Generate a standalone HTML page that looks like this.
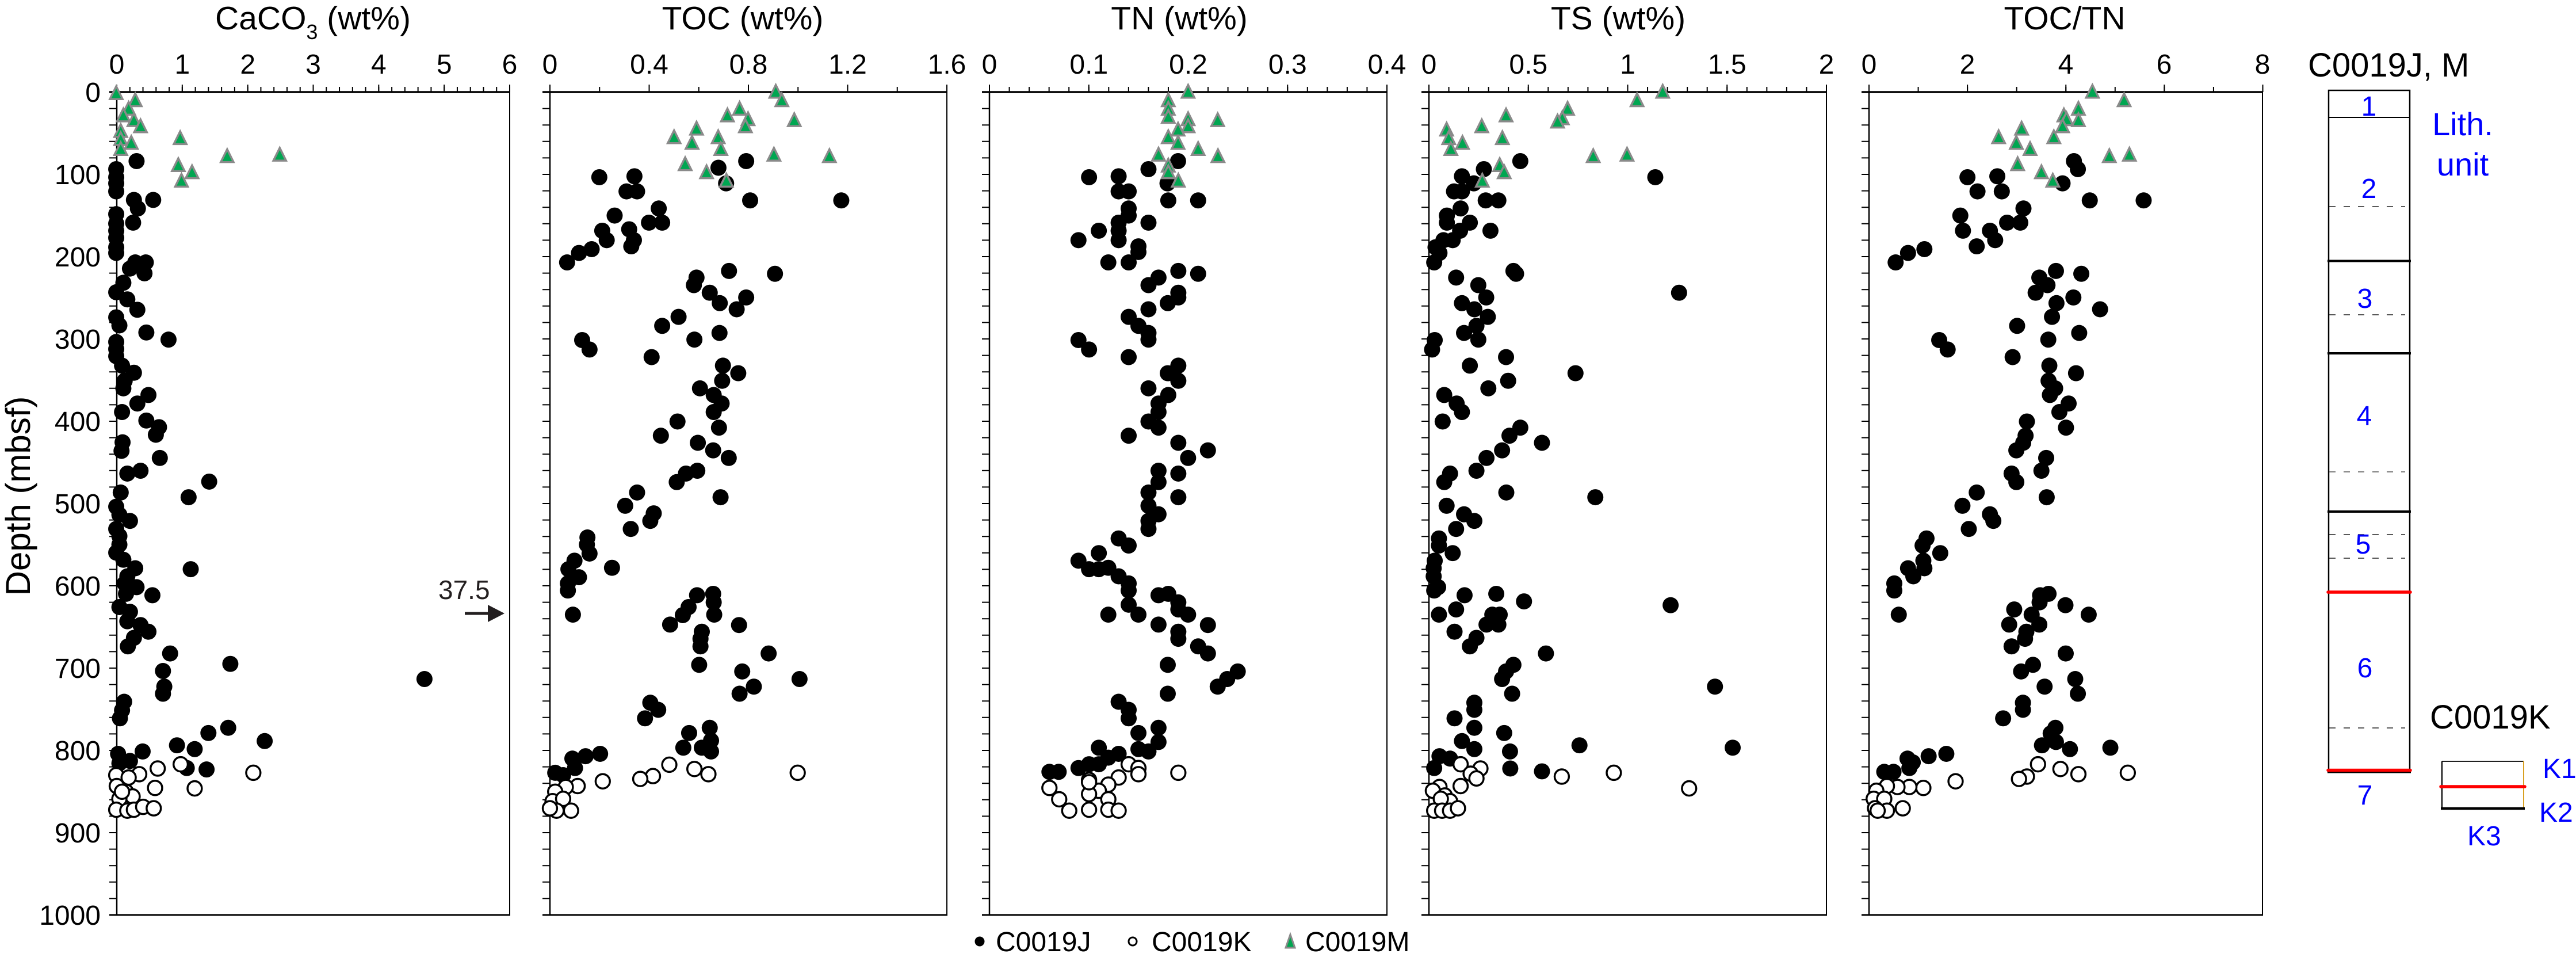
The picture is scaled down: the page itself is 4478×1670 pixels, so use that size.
<!DOCTYPE html>
<html><head><meta charset="utf-8"><style>
html,body{margin:0;padding:0;background:#fff;}
body{width:4478px;height:1670px;overflow:hidden;}
svg{display:block;font-family:"Liberation Sans",Arial,sans-serif;}
</style></head><body>
<svg width="4478" height="1670" viewBox="0 0 4478 1670" xmlns="http://www.w3.org/2000/svg">
<defs>
<ellipse id="d" cx="0" cy="0" rx="30.5" ry="17" fill="#000"/>
<ellipse id="o" cx="0" cy="0" rx="27" ry="15.2" fill="#fff" stroke="#000" stroke-width="3.5" vector-effect="non-scaling-stroke"/>
<path id="t" d="M0,-15 L24,12 L-24,12Z" fill="#00a651" stroke="#8a8a8a" stroke-width="3.5" vector-effect="non-scaling-stroke"/>
</defs>
<rect width="4478" height="1670" fill="#fff"/>

<!-- Titles -->
<g font-size="57" fill="#000" text-anchor="middle">
<text x="544" y="51">CaCO<tspan font-size="36" dy="17">3</tspan><tspan dy="-17"> (wt%)</tspan></text>
<text x="1291" y="51">TOC (wt%)</text>
<text x="2050" y="51">TN (wt%)</text>
<text x="2813" y="51">TS (wt%)</text>
<text x="3589" y="51">TOC/TN</text>
</g>

<!-- X tick labels -->
<g font-size="48" fill="#000" text-anchor="middle">
<text x="203" y="128">0</text><text x="316.8" y="128">1</text><text x="430.7" y="128">2</text><text x="544.5" y="128">3</text><text x="658.3" y="128">4</text><text x="772.2" y="128">5</text><text x="886" y="128">6</text>
<text x="956" y="128">0</text><text x="1128.5" y="128">0.4</text><text x="1301" y="128">0.8</text><text x="1473.5" y="128">1.2</text><text x="1646" y="128">1.6</text>
<text x="1720" y="128">0</text><text x="1892.8" y="128">0.1</text><text x="2065.5" y="128">0.2</text><text x="2238.3" y="128">0.3</text><text x="2411" y="128">0.4</text>
<text x="2484" y="128">0</text><text x="2656.8" y="128">0.5</text><text x="2829.5" y="128">1</text><text x="3002.3" y="128">1.5</text><text x="3175" y="128">2</text>
<text x="3249" y="128">0</text><text x="3420" y="128">2</text><text x="3591" y="128">4</text><text x="3762" y="128">6</text><text x="3933" y="128">8</text>
</g>

<!-- Y tick labels -->
<g font-size="48" fill="#000" text-anchor="end">
<text x="175" y="177">0</text><text x="175" y="320">100</text><text x="175" y="463">200</text><text x="175" y="606">300</text><text x="175" y="749">400</text><text x="175" y="892">500</text><text x="175" y="1035">600</text><text x="175" y="1178">700</text><text x="175" y="1321">800</text><text x="175" y="1464">900</text><text x="175" y="1607">1000</text>
</g>
<text transform="translate(52,862) rotate(-90)" font-size="60" text-anchor="middle" fill="#000">Depth (mbsf)</text>

<!-- Ticks -->
<g stroke="#000" fill="none">
<line x1="202" y1="155.5" x2="888" y2="155.5" stroke-width="9" stroke-dasharray="2 20.767"/>
<line x1="202" y1="153.5" x2="888" y2="153.5" stroke-width="13" stroke-dasharray="2 111.83"/>
<line x1="955" y1="155.5" x2="1648" y2="155.5" stroke-width="9" stroke-dasharray="2 84.25"/>
<line x1="955" y1="153.5" x2="1648" y2="153.5" stroke-width="13" stroke-dasharray="2 170.5"/>
<line x1="1719" y1="155.5" x2="2413" y2="155.5" stroke-width="9" stroke-dasharray="2 32.55"/>
<line x1="1719" y1="153.5" x2="2413" y2="153.5" stroke-width="13" stroke-dasharray="2 170.75"/>
<line x1="2483" y1="155.5" x2="3177" y2="155.5" stroke-width="9" stroke-dasharray="2 32.55"/>
<line x1="2483" y1="153.5" x2="3177" y2="153.5" stroke-width="13" stroke-dasharray="2 170.75"/>
<line x1="3248" y1="155.5" x2="3935" y2="155.5" stroke-width="9" stroke-dasharray="2 83.56"/>
<line x1="3248" y1="153.5" x2="3935" y2="153.5" stroke-width="13" stroke-dasharray="2 169.12"/>
<line x1="196.5" y1="159" x2="196.5" y2="1592" stroke-width="13" stroke-dasharray="2 26.6"/>
<line x1="949.5" y1="159" x2="949.5" y2="1592" stroke-width="13" stroke-dasharray="2 26.6"/>
<line x1="1713.5" y1="159" x2="1713.5" y2="1592" stroke-width="13" stroke-dasharray="2 26.6"/>
<line x1="2477.5" y1="159" x2="2477.5" y2="1592" stroke-width="13" stroke-dasharray="2 26.6"/>
<line x1="3242.5" y1="159" x2="3242.5" y2="1592" stroke-width="13" stroke-dasharray="2 26.6"/>
</g>

<!-- Frames -->
<g stroke="#000" fill="none">
<line x1="190" y1="160" x2="887" y2="160" stroke-width="3.5"/><line x1="203" y1="160" x2="203" y2="1590" stroke-width="2.5"/><line x1="886" y1="160" x2="886" y2="1591" stroke-width="2"/><line x1="190" y1="1590" x2="887" y2="1590" stroke-width="3"/>
<line x1="943" y1="160" x2="1647" y2="160" stroke-width="3.5"/><line x1="956" y1="160" x2="956" y2="1590" stroke-width="2.5"/><line x1="1646" y1="160" x2="1646" y2="1591" stroke-width="2"/><line x1="943" y1="1590" x2="1647" y2="1590" stroke-width="3"/>
<line x1="1707" y1="160" x2="2412" y2="160" stroke-width="3.5"/><line x1="1720" y1="160" x2="1720" y2="1590" stroke-width="2.5"/><line x1="2411" y1="160" x2="2411" y2="1591" stroke-width="2"/><line x1="1707" y1="1590" x2="2412" y2="1590" stroke-width="3"/>
<line x1="2471" y1="160" x2="3176" y2="160" stroke-width="3.5"/><line x1="2484" y1="160" x2="2484" y2="1590" stroke-width="2.5"/><line x1="3175" y1="160" x2="3175" y2="1591" stroke-width="2"/><line x1="2471" y1="1590" x2="3176" y2="1590" stroke-width="3"/>
<line x1="3236" y1="160" x2="3934" y2="160" stroke-width="3.5"/><line x1="3249" y1="160" x2="3249" y2="1590" stroke-width="2.5"/><line x1="3933" y1="160" x2="3933" y2="1591" stroke-width="2"/><line x1="3236" y1="1590" x2="3934" y2="1590" stroke-width="3"/>
</g>

<!-- Panel 1 CaCO3 -->
<g transform="translate(180,150) scale(0.45918,0.8227)">
<use href="#d" x="125" y="158"/><use href="#d" x="48" y="175"/><use href="#d" x="48" y="192"/><use href="#d" x="48" y="205"/><use href="#d" x="48" y="222"/>
<use href="#d" x="115" y="240"/><use href="#d" x="188" y="240"/><use href="#d" x="130" y="258"/><use href="#d" x="112" y="288"/>
<use href="#d" x="48" y="270"/><use href="#d" x="48" y="290"/><use href="#d" x="48" y="305"/><use href="#d" x="48" y="320"/><use href="#d" x="48" y="340"/><use href="#d" x="48" y="352"/>
<use href="#d" x="120" y="372"/><use href="#d" x="160" y="372"/><use href="#d" x="100" y="385"/><use href="#d" x="155" y="395"/><use href="#d" x="75" y="415"/><use href="#d" x="48" y="435"/><use href="#d" x="90" y="450"/><use href="#d" x="128" y="472"/><use href="#d" x="48" y="488"/><use href="#d" x="60" y="505"/><use href="#d" x="162" y="520"/><use href="#d" x="246" y="535"/>
<use href="#d" x="48" y="540"/><use href="#d" x="48" y="555"/><use href="#d" x="48" y="570"/><use href="#d" x="70" y="590"/><use href="#d" x="115" y="605"/><use href="#d" x="80" y="622"/><use href="#d" x="75" y="638"/><use href="#d" x="170" y="652"/><use href="#d" x="128" y="670"/><use href="#d" x="70" y="688"/><use href="#d" x="162" y="706"/><use href="#d" x="210" y="720"/><use href="#d" x="198" y="736"/><use href="#d" x="72" y="752"/><use href="#d" x="68" y="770"/><use href="#d" x="213" y="785"/><use href="#d" x="90" y="818"/><use href="#d" x="140" y="812"/><use href="#d" x="400" y="835"/><use href="#d" x="65" y="858"/><use href="#d" x="322" y="868"/><use href="#d" x="48" y="888"/><use href="#d" x="60" y="905"/><use href="#d" x="100" y="918"/><use href="#d" x="48" y="935"/><use href="#d" x="60" y="950"/><use href="#d" x="60" y="968"/><use href="#d" x="48" y="985"/><use href="#d" x="75" y="1000"/><use href="#d" x="120" y="1018"/><use href="#d" x="330" y="1020"/><use href="#d" x="90" y="1035"/><use href="#d" x="80" y="1050"/><use href="#d" x="125" y="1058"/><use href="#d" x="85" y="1072"/><use href="#d" x="185" y="1075"/><use href="#d" x="60" y="1100"/><use href="#d" x="100" y="1110"/><use href="#d" x="90" y="1130"/><use href="#d" x="140" y="1138"/><use href="#d" x="170" y="1152"/><use href="#d" x="115" y="1165"/><use href="#d" x="92" y="1183"/><use href="#d" x="252" y="1198"/><use href="#d" x="480" y="1220"/><use href="#d" x="225" y="1235"/><use href="#d" x="1215" y="1252"/><use href="#d" x="230" y="1268"/><use href="#d" x="225" y="1283"/><use href="#d" x="78" y="1300"/><use href="#d" x="70" y="1318"/><use href="#d" x="62" y="1335"/><use href="#d" x="472" y="1355"/><use href="#d" x="397" y="1366"/><use href="#d" x="610" y="1383"/><use href="#d" x="278" y="1392"/><use href="#d" x="345" y="1400"/><use href="#d" x="148" y="1405"/><use href="#d" x="55" y="1410"/><use href="#d" x="100" y="1425"/><use href="#d" x="315" y="1440"/><use href="#d" x="390" y="1443"/><use href="#d" x="60" y="1430"/>
<use href="#o" x="205" y="1441"/><use href="#o" x="292" y="1432"/><use href="#o" x="567" y="1450"/><use href="#o" x="135" y="1453"/><use href="#o" x="48" y="1455"/><use href="#o" x="95" y="1460"/><use href="#o" x="195" y="1482"/><use href="#o" x="345" y="1483"/><use href="#o" x="50" y="1478"/><use href="#o" x="85" y="1490"/><use href="#o" x="110" y="1500"/><use href="#o" x="60" y="1505"/><use href="#o" x="48" y="1528"/><use href="#o" x="90" y="1530"/><use href="#o" x="115" y="1528"/><use href="#o" x="150" y="1522"/><use href="#o" x="190" y="1525"/><use href="#o" x="70" y="1490"/>
<use href="#t" x="48" y="15"/><use href="#t" x="120" y="30"/><use href="#t" x="95" y="48"/><use href="#t" x="75" y="62"/><use href="#t" x="115" y="72"/><use href="#t" x="140" y="85"/><use href="#t" x="65" y="95"/><use href="#t" x="65" y="112"/><use href="#t" x="105" y="120"/><use href="#t" x="65" y="133"/><use href="#t" x="290" y="110"/><use href="#t" x="468" y="148"/><use href="#t" x="667" y="145"/><use href="#t" x="283" y="167"/><use href="#t" x="335" y="182"/><use href="#t" x="295" y="200"/>
</g>

<!-- 37.5 arrow -->
<text x="762" y="1041" font-size="46" fill="#231f20">37.5</text>
<line x1="808" y1="1066" x2="852" y2="1066" stroke="#231f20" stroke-width="5"/>
<polygon points="848,1051 877,1066 848,1081" fill="#231f20"/>

<!-- Panel 2 TOC -->
<g transform="translate(933,150) scale(0.45918,0.8227)">
<use href="#d" x="793" y="158"/><use href="#d" x="688" y="172"/><use href="#d" x="237" y="192"/><use href="#d" x="370" y="190"/><use href="#d" x="340" y="222"/><use href="#d" x="380" y="222"/><use href="#d" x="717" y="205"/><use href="#d" x="808" y="241"/><use href="#d" x="1153" y="241"/><use href="#d" x="462" y="258"/><use href="#d" x="295" y="273"/><use href="#d" x="425" y="288"/><use href="#d" x="475" y="288"/><use href="#d" x="248" y="305"/><use href="#d" x="350" y="302"/><use href="#d" x="265" y="325"/><use href="#d" x="368" y="325"/><use href="#d" x="358" y="338"/><use href="#d" x="208" y="344"/><use href="#d" x="160" y="352"/><use href="#d" x="115" y="372"/>
<use href="#d" x="728" y="390"/><use href="#d" x="902" y="396"/><use href="#d" x="605" y="404"/><use href="#d" x="595" y="420"/><use href="#d" x="655" y="436"/><use href="#d" x="793" y="446"/><use href="#d" x="693" y="458"/><use href="#d" x="757" y="471"/><use href="#d" x="537" y="487"/><use href="#d" x="475" y="506"/><use href="#d" x="692" y="521"/><use href="#d" x="597" y="535"/><use href="#d" x="172" y="536"/><use href="#d" x="200" y="556"/><use href="#d" x="435" y="572"/><use href="#d" x="705" y="590"/><use href="#d" x="763" y="606"/><use href="#d" x="702" y="622"/><use href="#d" x="618" y="638"/><use href="#d" x="670" y="652"/><use href="#d" x="700" y="670"/><use href="#d" x="670" y="688"/><use href="#d" x="533" y="708"/><use href="#d" x="690" y="721"/><use href="#d" x="470" y="738"/><use href="#d" x="610" y="753"/><use href="#d" x="668" y="769"/><use href="#d" x="727" y="785"/><use href="#d" x="608" y="812"/><use href="#d" x="565" y="818"/><use href="#d" x="530" y="836"/><use href="#d" x="696" y="868"/><use href="#d" x="380" y="858"/><use href="#d" x="335" y="886"/><use href="#d" x="443" y="902"/><use href="#d" x="430" y="918"/><use href="#d" x="356" y="935"/>
<use href="#d" x="192" y="953"/><use href="#d" x="190" y="968"/><use href="#d" x="200" y="987"/><use href="#d" x="143" y="1002"/><use href="#d" x="285" y="1017"/><use href="#d" x="120" y="1020"/><use href="#d" x="160" y="1037"/><use href="#d" x="118" y="1050"/><use href="#d" x="118" y="1065"/><use href="#d" x="137" y="1116"/><use href="#d" x="607" y="1075"/><use href="#d" x="668" y="1072"/><use href="#d" x="670" y="1090"/><use href="#d" x="575" y="1100"/><use href="#d" x="553" y="1117"/><use href="#d" x="672" y="1116"/><use href="#d" x="505" y="1137"/><use href="#d" x="766" y="1138"/><use href="#d" x="625" y="1152"/><use href="#d" x="620" y="1167"/><use href="#d" x="620" y="1183"/><use href="#d" x="878" y="1198"/><use href="#d" x="615" y="1222"/><use href="#d" x="778" y="1236"/><use href="#d" x="995" y="1252"/><use href="#d" x="822" y="1268"/><use href="#d" x="768" y="1283"/><use href="#d" x="430" y="1302"/><use href="#d" x="460" y="1317"/><use href="#d" x="410" y="1335"/><use href="#d" x="577" y="1366"/><use href="#d" x="655" y="1355"/><use href="#d" x="660" y="1382"/><use href="#d" x="555" y="1397"/><use href="#d" x="625" y="1397"/><use href="#d" x="660" y="1405"/><use href="#d" x="240" y="1410"/><use href="#d" x="185" y="1415"/><use href="#d" x="135" y="1420"/><use href="#d" x="70" y="1450"/><use href="#d" x="145" y="1440"/><use href="#d" x="100" y="1455"/>
<use href="#o" x="502" y="1433"/><use href="#o" x="597" y="1442"/><use href="#o" x="650" y="1453"/><use href="#o" x="988" y="1450"/><use href="#o" x="440" y="1457"/><use href="#o" x="392" y="1463"/><use href="#o" x="250" y="1468"/><use href="#o" x="155" y="1478"/><use href="#o" x="110" y="1480"/><use href="#o" x="70" y="1490"/><use href="#o" x="60" y="1510"/><use href="#o" x="100" y="1505"/><use href="#o" x="75" y="1530"/><use href="#o" x="130" y="1530"/><use href="#o" x="50" y="1525"/>
<use href="#t" x="905" y="12"/><use href="#t" x="928" y="30"/><use href="#t" x="768" y="48"/><use href="#t" x="722" y="62"/><use href="#t" x="800" y="70"/><use href="#t" x="975" y="72"/><use href="#t" x="790" y="85"/><use href="#t" x="605" y="90"/><use href="#t" x="520" y="108"/><use href="#t" x="687" y="108"/><use href="#t" x="588" y="120"/><use href="#t" x="697" y="133"/><use href="#t" x="898" y="145"/><use href="#t" x="1108" y="148"/><use href="#t" x="562" y="165"/><use href="#t" x="643" y="182"/><use href="#t" x="718" y="200"/>
</g>

<!-- Panel 3 TN -->
<g transform="translate(1698,150) scale(0.45918,0.8227)">
<use href="#d" x="762" y="158"/><use href="#d" x="650" y="175"/><use href="#d" x="425" y="192"/><use href="#d" x="537" y="190"/><use href="#d" x="537" y="222"/><use href="#d" x="575" y="222"/><use href="#d" x="722" y="205"/><use href="#d" x="725" y="241"/><use href="#d" x="838" y="241"/><use href="#d" x="575" y="258"/><use href="#d" x="575" y="273"/><use href="#d" x="537" y="288"/><use href="#d" x="650" y="288"/><use href="#d" x="462" y="305"/><use href="#d" x="537" y="305"/><use href="#d" x="385" y="325"/><use href="#d" x="537" y="325"/><use href="#d" x="612" y="338"/><use href="#d" x="612" y="350"/><use href="#d" x="498" y="372"/><use href="#d" x="575" y="372"/>
<use href="#d" x="763" y="390"/><use href="#d" x="838" y="396"/><use href="#d" x="688" y="404"/><use href="#d" x="650" y="420"/><use href="#d" x="763" y="436"/><use href="#d" x="763" y="446"/><use href="#d" x="723" y="458"/><use href="#d" x="650" y="471"/><use href="#d" x="575" y="487"/><use href="#d" x="612" y="506"/><use href="#d" x="650" y="521"/><use href="#d" x="650" y="535"/><use href="#d" x="385" y="536"/><use href="#d" x="425" y="556"/><use href="#d" x="575" y="572"/><use href="#d" x="763" y="590"/><use href="#d" x="723" y="606"/><use href="#d" x="763" y="622"/><use href="#d" x="650" y="638"/><use href="#d" x="725" y="652"/><use href="#d" x="688" y="670"/><use href="#d" x="688" y="688"/><use href="#d" x="650" y="708"/><use href="#d" x="688" y="721"/><use href="#d" x="575" y="738"/><use href="#d" x="763" y="753"/><use href="#d" x="875" y="769"/><use href="#d" x="800" y="785"/><use href="#d" x="688" y="812"/><use href="#d" x="763" y="818"/><use href="#d" x="688" y="836"/><use href="#d" x="650" y="858"/><use href="#d" x="763" y="868"/><use href="#d" x="650" y="886"/><use href="#d" x="688" y="904"/><use href="#d" x="650" y="918"/><use href="#d" x="650" y="935"/>
<use href="#d" x="537" y="955"/><use href="#d" x="575" y="970"/><use href="#d" x="462" y="986"/><use href="#d" x="385" y="1002"/><use href="#d" x="425" y="1020"/><use href="#d" x="462" y="1020"/><use href="#d" x="498" y="1017"/><use href="#d" x="537" y="1035"/><use href="#d" x="575" y="1050"/><use href="#d" x="575" y="1065"/><use href="#d" x="575" y="1095"/><use href="#d" x="498" y="1116"/><use href="#d" x="612" y="1116"/><use href="#d" x="688" y="1075"/><use href="#d" x="725" y="1072"/><use href="#d" x="763" y="1090"/><use href="#d" x="763" y="1105"/><use href="#d" x="800" y="1116"/><use href="#d" x="688" y="1137"/><use href="#d" x="875" y="1138"/><use href="#d" x="763" y="1152"/><use href="#d" x="763" y="1167"/><use href="#d" x="838" y="1183"/><use href="#d" x="875" y="1198"/><use href="#d" x="723" y="1222"/><use href="#d" x="988" y="1236"/><use href="#d" x="948" y="1252"/><use href="#d" x="912" y="1268"/><use href="#d" x="723" y="1283"/><use href="#d" x="537" y="1300"/><use href="#d" x="575" y="1317"/><use href="#d" x="575" y="1335"/><use href="#d" x="612" y="1366"/><use href="#d" x="688" y="1355"/><use href="#d" x="688" y="1385"/><use href="#d" x="612" y="1400"/><use href="#d" x="650" y="1405"/><use href="#d" x="462" y="1397"/><use href="#d" x="537" y="1410"/><use href="#d" x="498" y="1418"/><use href="#d" x="425" y="1432"/><use href="#d" x="385" y="1440"/><use href="#d" x="275" y="1448"/><use href="#d" x="310" y="1448"/><use href="#d" x="462" y="1432"/>
<use href="#o" x="575" y="1432"/><use href="#o" x="612" y="1440"/><use href="#o" x="612" y="1453"/><use href="#o" x="537" y="1460"/><use href="#o" x="763" y="1450"/><use href="#o" x="425" y="1465"/><use href="#o" x="498" y="1475"/><use href="#o" x="462" y="1488"/><use href="#o" x="275" y="1482"/><use href="#o" x="425" y="1495"/><use href="#o" x="312" y="1506"/><use href="#o" x="498" y="1506"/><use href="#o" x="350" y="1530"/><use href="#o" x="425" y="1528"/><use href="#o" x="498" y="1528"/><use href="#o" x="537" y="1530"/><use href="#o" x="425" y="1470"/>
<use href="#t" x="800" y="12"/><use href="#t" x="725" y="30"/><use href="#t" x="725" y="48"/><use href="#t" x="725" y="65"/><use href="#t" x="800" y="70"/><use href="#t" x="912" y="72"/><use href="#t" x="800" y="85"/><use href="#t" x="762" y="92"/><use href="#t" x="725" y="108"/><use href="#t" x="762" y="120"/><use href="#t" x="838" y="133"/><use href="#t" x="688" y="145"/><use href="#t" x="913" y="148"/><use href="#t" x="725" y="168"/><use href="#t" x="725" y="182"/><use href="#t" x="763" y="200"/>
</g>

<!-- Panel 4 TS -->
<g transform="translate(2461,150) scale(0.45918,0.8227)">
<use href="#d" x="396" y="158"/><use href="#d" x="258" y="175"/><use href="#d" x="175" y="190"/><use href="#d" x="907" y="192"/><use href="#d" x="220" y="205"/><use href="#d" x="145" y="222"/><use href="#d" x="175" y="222"/><use href="#d" x="265" y="241"/><use href="#d" x="313" y="241"/><use href="#d" x="170" y="258"/><use href="#d" x="118" y="273"/><use href="#d" x="118" y="288"/><use href="#d" x="205" y="288"/><use href="#d" x="168" y="305"/><use href="#d" x="283" y="305"/><use href="#d" x="140" y="325"/><use href="#d" x="105" y="325"/><use href="#d" x="75" y="340"/><use href="#d" x="90" y="352"/><use href="#d" x="70" y="372"/>
<use href="#d" x="370" y="390"/><use href="#d" x="380" y="396"/><use href="#d" x="153" y="404"/><use href="#d" x="237" y="420"/><use href="#d" x="997" y="436"/><use href="#d" x="267" y="446"/><use href="#d" x="175" y="458"/><use href="#d" x="222" y="471"/><use href="#d" x="273" y="487"/><use href="#d" x="230" y="506"/><use href="#d" x="183" y="521"/><use href="#d" x="237" y="535"/><use href="#d" x="72" y="536"/><use href="#d" x="62" y="556"/><use href="#d" x="342" y="572"/><use href="#d" x="205" y="590"/><use href="#d" x="605" y="606"/><use href="#d" x="350" y="622"/><use href="#d" x="275" y="638"/><use href="#d" x="108" y="652"/><use href="#d" x="155" y="670"/><use href="#d" x="175" y="688"/><use href="#d" x="102" y="708"/><use href="#d" x="396" y="721"/><use href="#d" x="355" y="738"/><use href="#d" x="478" y="753"/><use href="#d" x="327" y="769"/><use href="#d" x="268" y="785"/><use href="#d" x="130" y="818"/><use href="#d" x="230" y="812"/><use href="#d" x="108" y="836"/><use href="#d" x="343" y="858"/><use href="#d" x="680" y="868"/><use href="#d" x="117" y="886"/><use href="#d" x="183" y="904"/><use href="#d" x="222" y="918"/><use href="#d" x="153" y="935"/>
<use href="#d" x="88" y="955"/><use href="#d" x="88" y="970"/><use href="#d" x="140" y="986"/><use href="#d" x="72" y="1002"/><use href="#d" x="68" y="1018"/><use href="#d" x="68" y="1035"/><use href="#d" x="85" y="1058"/><use href="#d" x="70" y="1065"/><use href="#d" x="185" y="1075"/><use href="#d" x="305" y="1072"/><use href="#d" x="410" y="1088"/><use href="#d" x="965" y="1096"/><use href="#d" x="153" y="1105"/><use href="#d" x="88" y="1116"/><use href="#d" x="290" y="1116"/><use href="#d" x="318" y="1116"/><use href="#d" x="268" y="1137"/><use href="#d" x="313" y="1137"/><use href="#d" x="147" y="1152"/><use href="#d" x="230" y="1165"/><use href="#d" x="205" y="1183"/><use href="#d" x="493" y="1198"/><use href="#d" x="370" y="1222"/><use href="#d" x="342" y="1236"/><use href="#d" x="327" y="1252"/><use href="#d" x="1133" y="1268"/><use href="#d" x="365" y="1283"/><use href="#d" x="222" y="1302"/><use href="#d" x="222" y="1317"/><use href="#d" x="147" y="1335"/><use href="#d" x="222" y="1355"/><use href="#d" x="335" y="1366"/><use href="#d" x="175" y="1383"/><use href="#d" x="222" y="1400"/><use href="#d" x="620" y="1392"/><use href="#d" x="1200" y="1397"/><use href="#d" x="357" y="1405"/><use href="#d" x="90" y="1415"/><use href="#d" x="130" y="1420"/><use href="#d" x="70" y="1440"/><use href="#d" x="358" y="1441"/><use href="#d" x="478" y="1447"/>
<use href="#o" x="170" y="1432"/><use href="#o" x="245" y="1441"/><use href="#o" x="208" y="1452"/><use href="#o" x="230" y="1462"/><use href="#o" x="553" y="1458"/><use href="#o" x="750" y="1450"/><use href="#o" x="1035" y="1483"/><use href="#o" x="170" y="1478"/><use href="#o" x="90" y="1480"/><use href="#o" x="65" y="1488"/><use href="#o" x="110" y="1498"/><use href="#o" x="130" y="1510"/><use href="#o" x="95" y="1505"/><use href="#o" x="70" y="1530"/><use href="#o" x="100" y="1530"/><use href="#o" x="130" y="1530"/><use href="#o" x="160" y="1525"/>
<use href="#t" x="935" y="12"/><use href="#t" x="838" y="30"/><use href="#t" x="575" y="48"/><use href="#t" x="342" y="62"/><use href="#t" x="555" y="68"/><use href="#t" x="537" y="75"/><use href="#t" x="250" y="85"/><use href="#t" x="117" y="92"/><use href="#t" x="125" y="110"/><use href="#t" x="328" y="110"/><use href="#t" x="177" y="120"/><use href="#t" x="133" y="133"/><use href="#t" x="672" y="148"/><use href="#t" x="800" y="145"/><use href="#t" x="318" y="167"/><use href="#t" x="335" y="182"/><use href="#t" x="252" y="200"/>
</g>

<!-- Panel 5 TOC/TN -->
<g transform="translate(3225,150) scale(0.45918,0.8227)">
<use href="#d" x="828" y="158"/><use href="#d" x="843" y="175"/><use href="#d" x="425" y="192"/><use href="#d" x="538" y="190"/><use href="#d" x="463" y="222"/><use href="#d" x="555" y="222"/><use href="#d" x="785" y="205"/><use href="#d" x="888" y="241"/><use href="#d" x="1092" y="241"/><use href="#d" x="637" y="258"/><use href="#d" x="398" y="273"/><use href="#d" x="575" y="288"/><use href="#d" x="625" y="288"/><use href="#d" x="408" y="305"/><use href="#d" x="510" y="305"/><use href="#d" x="530" y="325"/><use href="#d" x="460" y="338"/><use href="#d" x="262" y="344"/><use href="#d" x="200" y="352"/><use href="#d" x="153" y="372"/>
<use href="#d" x="760" y="390"/><use href="#d" x="856" y="396"/><use href="#d" x="697" y="404"/><use href="#d" x="728" y="420"/><use href="#d" x="683" y="436"/><use href="#d" x="826" y="446"/><use href="#d" x="762" y="458"/><use href="#d" x="927" y="471"/><use href="#d" x="745" y="487"/><use href="#d" x="613" y="506"/><use href="#d" x="848" y="521"/><use href="#d" x="731" y="535"/><use href="#d" x="318" y="536"/><use href="#d" x="350" y="556"/><use href="#d" x="596" y="572"/><use href="#d" x="735" y="590"/><use href="#d" x="836" y="606"/><use href="#d" x="732" y="622"/><use href="#d" x="757" y="638"/><use href="#d" x="737" y="652"/><use href="#d" x="808" y="670"/><use href="#d" x="773" y="688"/><use href="#d" x="650" y="708"/><use href="#d" x="798" y="721"/><use href="#d" x="645" y="738"/><use href="#d" x="636" y="753"/><use href="#d" x="610" y="769"/><use href="#d" x="723" y="785"/><use href="#d" x="592" y="818"/><use href="#d" x="705" y="812"/><use href="#d" x="610" y="836"/><use href="#d" x="725" y="868"/><use href="#d" x="460" y="858"/><use href="#d" x="406" y="886"/><use href="#d" x="510" y="904"/><use href="#d" x="523" y="918"/><use href="#d" x="430" y="935"/>
<use href="#d" x="270" y="955"/><use href="#d" x="255" y="970"/><use href="#d" x="322" y="986"/><use href="#d" x="258" y="1002"/><use href="#d" x="200" y="1018"/><use href="#d" x="262" y="1018"/><use href="#d" x="220" y="1035"/><use href="#d" x="148" y="1050"/><use href="#d" x="148" y="1065"/><use href="#d" x="165" y="1116"/><use href="#d" x="732" y="1072"/><use href="#d" x="700" y="1075"/><use href="#d" x="698" y="1090"/><use href="#d" x="602" y="1105"/><use href="#d" x="796" y="1096"/><use href="#d" x="668" y="1116"/><use href="#d" x="884" y="1116"/><use href="#d" x="583" y="1137"/><use href="#d" x="697" y="1137"/><use href="#d" x="648" y="1152"/><use href="#d" x="643" y="1167"/><use href="#d" x="592" y="1183"/><use href="#d" x="797" y="1198"/><use href="#d" x="673" y="1222"/><use href="#d" x="628" y="1236"/><use href="#d" x="833" y="1252"/><use href="#d" x="717" y="1268"/><use href="#d" x="843" y="1283"/><use href="#d" x="635" y="1302"/><use href="#d" x="635" y="1317"/><use href="#d" x="560" y="1335"/><use href="#d" x="758" y="1355"/><use href="#d" x="740" y="1367"/><use href="#d" x="760" y="1385"/><use href="#d" x="707" y="1392"/><use href="#d" x="966" y="1397"/><use href="#d" x="813" y="1400"/><use href="#d" x="345" y="1410"/><use href="#d" x="278" y="1415"/><use href="#d" x="198" y="1420"/><use href="#d" x="218" y="1428"/><use href="#d" x="110" y="1448"/><use href="#d" x="145" y="1448"/><use href="#d" x="205" y="1440"/>
<use href="#o" x="692" y="1432"/><use href="#o" x="777" y="1442"/><use href="#o" x="845" y="1453"/><use href="#o" x="1032" y="1450"/><use href="#o" x="650" y="1458"/><use href="#o" x="620" y="1463"/><use href="#o" x="380" y="1468"/><use href="#o" x="258" y="1482"/><use href="#o" x="205" y="1480"/><use href="#o" x="160" y="1480"/><use href="#o" x="120" y="1478"/><use href="#o" x="80" y="1488"/><use href="#o" x="70" y="1505"/><use href="#o" x="110" y="1505"/><use href="#o" x="75" y="1525"/><use href="#o" x="120" y="1530"/><use href="#o" x="180" y="1525"/><use href="#o" x="85" y="1530"/>
<use href="#t" x="898" y="12"/><use href="#t" x="1018" y="30"/><use href="#t" x="845" y="48"/><use href="#t" x="790" y="62"/><use href="#t" x="800" y="70"/><use href="#t" x="845" y="72"/><use href="#t" x="785" y="85"/><use href="#t" x="630" y="90"/><use href="#t" x="543" y="108"/><use href="#t" x="752" y="108"/><use href="#t" x="610" y="120"/><use href="#t" x="662" y="133"/><use href="#t" x="962" y="148"/><use href="#t" x="1038" y="145"/><use href="#t" x="615" y="165"/><use href="#t" x="705" y="182"/><use href="#t" x="748" y="200"/>
</g>

<!-- Lithology column -->
<text x="4012" y="133" font-size="58" fill="#000">C0019J, M</text>
<rect x="4048" y="157" width="141" height="1185" fill="none" stroke="#000" stroke-width="2.5"/>
<g stroke="#000" fill="none">
<line x1="4048" y1="204" x2="4189" y2="204" stroke-width="2"/>
<line x1="4046" y1="453.5" x2="4191" y2="453.5" stroke-width="4"/>
<line x1="4046" y1="614" x2="4191" y2="614" stroke-width="4"/>
<line x1="4046" y1="889" x2="4191" y2="889" stroke-width="4"/>
<line x1="4046" y1="1342" x2="4191" y2="1342" stroke-width="3"/>
</g>
<g stroke="#222" stroke-width="1.6" stroke-dasharray="11 14" fill="none">
<line x1="4049" y1="359" x2="4181" y2="359"/>
<line x1="4049" y1="547" x2="4181" y2="547"/>
<line x1="4049" y1="820" x2="4181" y2="820" stroke="#555"/>
<line x1="4049" y1="929" x2="4181" y2="929"/>
<line x1="4049" y1="970" x2="4181" y2="970"/>
<line x1="4049" y1="1265" x2="4181" y2="1265"/>
</g>
<g stroke="#ff0000" stroke-width="5.5" stroke-linecap="round">
<line x1="4047" y1="1029" x2="4190" y2="1029"/>
<line x1="4047" y1="1338.5" x2="4190" y2="1338.5"/>
</g>
<g fill="#0000ff" font-size="48" text-anchor="middle">
<text x="4118" y="201">1</text>
<text x="4118" y="344">2</text>
<text x="4111" y="535">3</text>
<text x="4110" y="739">4</text>
<text x="4108" y="962">5</text>
<text x="4111" y="1177">6</text>
<text x="4111" y="1398">7</text>
</g>
<g fill="#0000ff" font-size="56" text-anchor="middle">
<text x="4281" y="235">Lith.</text>
<text x="4281" y="305">unit</text>
</g>

<!-- C0019K -->
<text x="4224" y="1266" font-size="58" fill="#000">C0019K</text>
<line x1="4245" y1="1323" x2="4387" y2="1323" stroke="#000" stroke-width="1.8"/>
<line x1="4245" y1="1323" x2="4245" y2="1405" stroke="#000" stroke-width="2.2"/>
<line x1="4387" y1="1323" x2="4387" y2="1405" stroke="#d9a021" stroke-width="2"/>
<line x1="4243" y1="1405" x2="4389" y2="1405" stroke="#000" stroke-width="4.5"/>
<line x1="4243" y1="1367" x2="4389" y2="1367" stroke="#ff0000" stroke-width="5.5" stroke-linecap="round"/>
<g fill="#0000ff" font-size="48">
<text x="4420" y="1352">K1</text>
<text x="4414" y="1428">K2</text>
<text x="4289" y="1469">K3</text>
</g>

<!-- Legend -->
<circle cx="1703" cy="1636" r="8.5" fill="#000"/>
<text x="1731" y="1653" font-size="48" fill="#000">C0019J</text>
<circle cx="1969" cy="1636" r="7" fill="#fff" stroke="#000" stroke-width="3"/>
<text x="2002" y="1653" font-size="48" fill="#000">C0019K</text>
<path d="M2243,1624 L2251,1647 L2235,1647Z" fill="#00a651" stroke="#8a8a8a" stroke-width="3"/>
<text x="2269" y="1653" font-size="48" fill="#000">C0019M</text>
</svg>
</body></html>
